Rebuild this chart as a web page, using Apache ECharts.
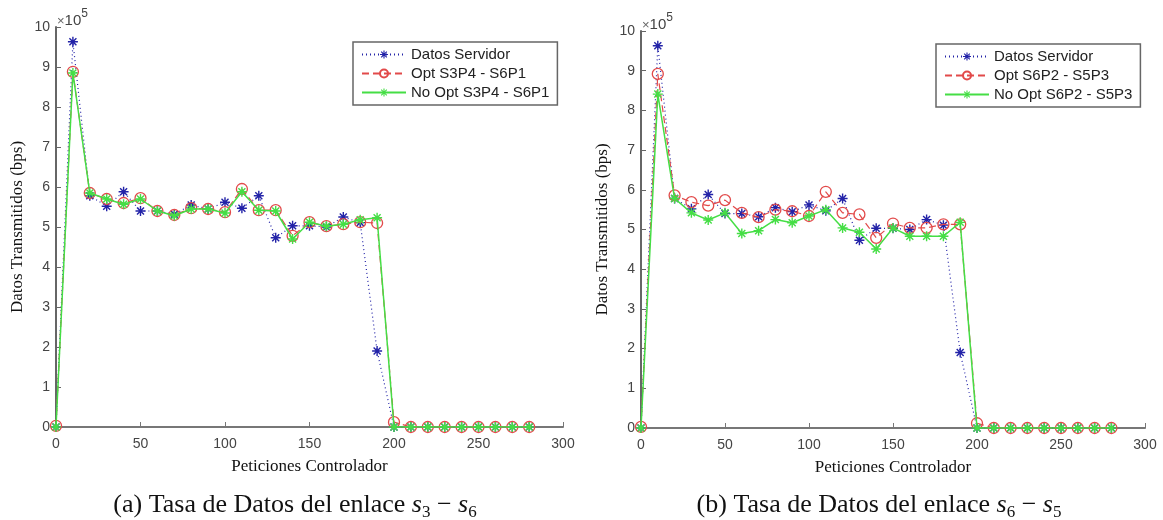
<!DOCTYPE html>
<html>
<head>
<meta charset="utf-8">
<title>Tasa de Datos</title>
<script src="https://cdn.jsdelivr.net/npm/echarts@6/dist/echarts.min.js"></script>
<style>
  html, body { margin: 0; padding: 0; background: #fff; }
  #main { width: 1163px; height: 520px; }
</style>
</head>
<body>
<div id="main"></div>
<script>
// Peticiones del controlador (eje x)
var peticiones = [0, 10, 20, 30, 40, 50, 60, 70, 80, 90, 100, 110, 120, 130, 140,
  150, 160, 170, 180, 190, 200, 210, 220, 230, 240, 250, 260, 270, 280];

// valores en unidades de 10^5 bps
var datosServidor = [0, 9.63, 5.78, 5.52, 5.88, 5.40, 5.40, 5.32, 5.55, 5.45, 5.62, 5.47, 5.78, 4.73, 5.03,
  5.03, 5.00, 5.25, 5.11, 1.90, 0, 0, 0, 0, 0, 0, 0, 0, 0];

// enlace s3 - s6
var optS3P4 = [0.03, 8.88, 5.85, 5.70, 5.60, 5.72, 5.40, 5.30, 5.47, 5.45, 5.37, 5.95, 5.42, 5.42, 4.78,
  5.12, 5.02, 5.07, 5.12, 5.10, 0.12, 0, 0, 0, 0, 0, 0, 0, 0];
var noOptS3P4 = [0, 8.85, 5.85, 5.70, 5.57, 5.70, 5.40, 5.28, 5.45, 5.45, 5.35, 5.88, 5.42, 5.40, 4.70,
  5.12, 5.02, 5.07, 5.18, 5.23, 0, 0, 0, 0, 0, 0, 0, 0, 0];

// enlace s6 - s5
var optS6P2 = [0.03, 8.92, 5.86, 5.69, 5.60, 5.74, 5.42, 5.31, 5.50, 5.46, 5.34, 5.95, 5.42, 5.38, 4.79,
  5.15, 5.04, 5.04, 5.13, 5.13, 0.12, 0, 0, 0, 0, 0, 0, 0, 0];
var noOptS6P2 = [0, 8.41, 5.78, 5.42, 5.24, 5.42, 4.90, 4.97, 5.25, 5.17, 5.34, 5.50, 5.04, 4.93, 4.51,
  5.04, 4.83, 4.83, 4.83, 5.18, 0, 0, 0, 0, 0, 0, 0, 0, 0];

var xTicks = [0, 50, 100, 150, 200, 250, 300];
var yTicks = [0, 1, 2, 3, 4, 5, 6, 7, 8, 9, 10];

var nombres1 = ['Datos Servidor', 'Opt S3P4 - S6P1', 'No Opt S3P4 - S6P1'];
var nombres2 = ['Datos Servidor', 'Opt S6P2 - S5P3', 'No Opt S6P2 - S5P3'];

/* marcador asterisco tipo matlab */
var asterisco = 'path://M-0.7,-5 L0.7,-5 L0.7,5 L-0.7,5 Z M-5,-0.7 L5,-0.7 L5,0.7 L-5,0.7 Z ' +
  'M-3.0,-4.0 L4.0,3.0 L3.0,4.0 L-4.0,-3.0 Z M3.0,-4.0 L4.0,-3.0 L-3.0,4.0 L-4.0,3.0 Z';

var azul = '#2323a8', rojo = '#e24a4a', verde = '#45de45';
var serif = '"Liberation Serif", "DejaVu Serif", serif';
var sans = '"Liberation Sans", Arial, sans-serif';

function pares(ys) {
  var out = [];
  for (var i = 0; i < peticiones.length; i++) out.push([peticiones[i], ys[i]]);
  return out;
}

function ejeX(idx) {
  return {
    type: 'value', gridIndex: idx, min: xTicks[0], max: xTicks[xTicks.length - 1],
    interval: xTicks[1] - xTicks[0],
    name: 'Peticiones Controlador', nameLocation: 'middle', nameGap: 31,
    nameTextStyle: { fontFamily: serif, fontSize: 17, color: '#111' },
    axisLine: { lineStyle: { color: '#777', width: 2 } },
    axisTick: { inside: true, length: 5, lineStyle: { color: '#777' } },
    axisLabel: { fontFamily: sans, fontSize: 14, color: '#444', margin: 10 },
    splitLine: { show: false }
  };
}

function ejeY(idx) {
  return {
    type: 'value', gridIndex: idx, min: yTicks[0], max: yTicks[yTicks.length - 1],
    interval: yTicks[1] - yTicks[0],
    name: 'Datos Transmitidos (bps)', nameLocation: 'middle', nameGap: 30,
    nameTextStyle: { fontFamily: serif, fontSize: 17, color: '#111' },
    axisLine: { show: true, lineStyle: { color: '#666', width: 2 } },
    axisTick: { inside: true, length: 5, lineStyle: { color: '#666' } },
    axisLabel: { fontFamily: sans, fontSize: 14, color: '#444', margin: 6 },
    splitLine: { show: false }
  };
}

function series(idx, nombres, opt, noOpt) {
  return [
    {
      name: nombres[0], type: 'line', xAxisIndex: idx, yAxisIndex: idx, data: pares(datosServidor),
      symbol: asterisco, symbolSize: 10, showAllSymbol: true,
      lineStyle: { color: azul, width: 1.2, type: [1, 3] }, itemStyle: { color: azul },
      z: 2
    },
    {
      name: nombres[1], type: 'line', xAxisIndex: idx, yAxisIndex: idx, data: pares(opt),
      symbol: 'circle', symbolSize: 11, showAllSymbol: true,
      lineStyle: { color: rojo, width: 1.2, type: [7, 4] },
      itemStyle: { color: 'rgba(255,255,255,0)', borderColor: rojo, borderWidth: 1.3 },
      z: 3
    },
    {
      name: nombres[2], type: 'line', xAxisIndex: idx, yAxisIndex: idx, data: pares(noOpt),
      symbol: asterisco, symbolSize: 10, showAllSymbol: true,
      lineStyle: { color: verde, width: 1.5 }, itemStyle: { color: verde },
      z: 4
    }
  ];
}

function leyenda(nombres, left, top) {
  return {
    data: nombres, orient: 'vertical', left: left, top: top,
    itemWidth: 44, itemHeight: 10, itemGap: 4,
    padding: [5, 8, 5, 8],
    borderColor: '#666', borderWidth: 1.5, backgroundColor: '#fff',
    textStyle: { fontFamily: sans, fontSize: 15, color: '#222' },
    selectedMode: false
  };
}

function exponente(x, y) {
  return {
    type: 'text', left: x, top: y,
    style: {
      text: '{a|×}{b|10}{c|5}',
      rich: {
        a: { fontFamily: sans, fontSize: 13, fill: '#666' },
        b: { fontFamily: sans, fontSize: 15, fill: '#444' },
        c: { fontFamily: sans, fontSize: 12, fill: '#444', verticalAlign: 'top', lineHeight: 26 }
      }
    }
  };
}

function titulo(cx, y, letra, a, b) {
  return {
    type: 'text', x: cx, y: y,
    style: {
      text: '(' + letra + ') Tasa de Datos del enlace {i|s}{s|' + a + '} − {i|s}{s|' + b + '}',
      fontFamily: serif, fontSize: 26, fill: '#111', lineHeight: 32,
      align: 'center', verticalAlign: 'middle',
      rich: {
        i: { fontFamily: serif, fontSize: 26, fontStyle: 'italic', fill: '#111' },
        s: { fontFamily: serif, fontSize: 17, fill: '#111', verticalAlign: 'bottom', lineHeight: 19 }
      }
    }
  };
}

var chart = echarts.init(document.getElementById('main'));
var option = {
  animation: false,
  backgroundColor: '#fff',
  grid: [
    { left: 56, top: 27, width: 507, height: 400 },
    { left: 641, top: 31, width: 504, height: 397 }
  ],
  xAxis: [ejeX(0), ejeX(1)],
  yAxis: [ejeY(0), ejeY(1)],
  legend: [leyenda(nombres1, 353, 42), leyenda(nombres2, 936, 44)],
  series: series(0, nombres1, optS3P4, noOptS3P4).concat(series(1, nombres2, optS6P2, noOptS6P2)),
  graphic: [
    exponente(57, 8),
    exponente(642, 12),
    titulo(295, 505, 'a', '3', '6'),
    titulo(879, 505, 'b', '6', '5')
  ]
};
chart.setOption(option);
</script>
</body>
</html>
